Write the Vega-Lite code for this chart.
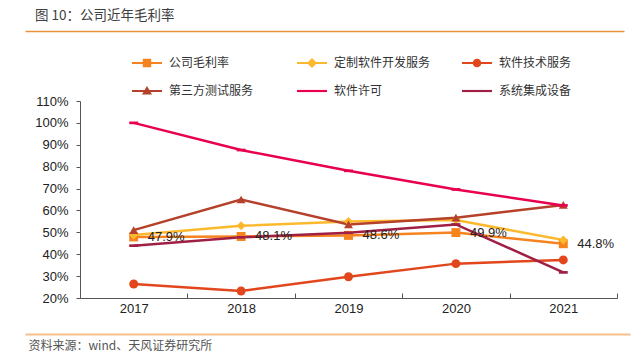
{
  "$schema": "https://vega.github.io/schema/vega-lite/v6.json",
  "width": 537,
  "height": 197,
  "autosize": {"type": "none"},
  "padding": {"left": 80, "top": 101, "right": 18, "bottom": 60},
  "background": "white",
  "config": {
    "view": {"stroke": null},
    "font": "Liberation Sans, Noto Sans CJK SC",
    "axis": {"labelFont": "Liberation Sans, Noto Sans CJK SC", "titleFont": "Noto Sans CJK SC"},
    "legend": {"labelFont": "Noto Sans CJK SC"}
  },
  "title": {
    "text": "图 10：公司近年毛利率",
    "anchor": "start",
    "frame": "group",
    "dx": -45,
    "dy": -9,
    "fontSize": 13.5,
    "fontWeight": "normal",
    "color": "#404040",
    "font": "Noto Sans CJK SC",
    "orient": "top",
    "offset": 0
  },
  "datasets": {
    "rows": [
      {"year": "2017", "series": "公司毛利率", "value": 0.479},
      {"year": "2018", "series": "公司毛利率", "value": 0.481},
      {"year": "2019", "series": "公司毛利率", "value": 0.486},
      {"year": "2020", "series": "公司毛利率", "value": 0.499},
      {"year": "2021", "series": "公司毛利率", "value": 0.448},
      {"year": "2017", "series": "定制软件开发服务", "value": 0.488},
      {"year": "2018", "series": "定制软件开发服务", "value": 0.530},
      {"year": "2019", "series": "定制软件开发服务", "value": 0.550},
      {"year": "2020", "series": "定制软件开发服务", "value": 0.556},
      {"year": "2021", "series": "定制软件开发服务", "value": 0.465},
      {"year": "2017", "series": "软件技术服务", "value": 0.264},
      {"year": "2018", "series": "软件技术服务", "value": 0.232},
      {"year": "2019", "series": "软件技术服务", "value": 0.297},
      {"year": "2020", "series": "软件技术服务", "value": 0.357},
      {"year": "2021", "series": "软件技术服务", "value": 0.374},
      {"year": "2017", "series": "第三方测试服务", "value": 0.510},
      {"year": "2018", "series": "第三方测试服务", "value": 0.650},
      {"year": "2019", "series": "第三方测试服务", "value": 0.536},
      {"year": "2020", "series": "第三方测试服务", "value": 0.567},
      {"year": "2021", "series": "第三方测试服务", "value": 0.625},
      {"year": "2017", "series": "软件许可", "value": 1.000},
      {"year": "2018", "series": "软件许可", "value": 0.876},
      {"year": "2019", "series": "软件许可", "value": 0.781},
      {"year": "2020", "series": "软件许可", "value": 0.696},
      {"year": "2021", "series": "软件许可", "value": 0.623},
      {"year": "2017", "series": "系统集成设备", "value": 0.439},
      {"year": "2018", "series": "系统集成设备", "value": 0.477},
      {"year": "2019", "series": "系统集成设备", "value": 0.498},
      {"year": "2020", "series": "系统集成设备", "value": 0.536},
      {"year": "2021", "series": "系统集成设备", "value": 0.317}
    ]
  },
  "data": {"name": "rows"},
  "encoding": {
    "y": {
      "field": "value",
      "type": "quantitative",
      "scale": {"domain": [0.2, 1.1], "nice": false, "zero": false},
      "axis": {
        "title": null,
        "format": ".0%",
        "values": [0.2, 0.3, 0.4, 0.5, 0.6, 0.7, 0.8, 0.9, 1.0, 1.1],
        "grid": false,
        "labelFontSize": 13,
        "labelColor": "#222222",
        "labelPadding": 8,
        "tickSize": 4,
        "tickColor": "#555555",
        "domainColor": "#555555"
      }
    }
  },
  "layer": [
    {
      "mark": {"type": "line", "strokeWidth": 2.5},
      "encoding": {
        "x": {
          "field": "year",
          "type": "ordinal",
          "scale": {"paddingInner": 0, "paddingOuter": 0},
          "axis": {
            "orient": "bottom",
            "title": "资料来源：wind、天风证券研究所",
            "titleX": -52,
            "titleY": 47,
            "titleAlign": "left",
            "titleBaseline": "middle",
            "titleFontSize": 12,
            "titleFontWeight": "normal",
            "titleColor": "#555555",
            "labelAngle": 0,
            "labelFontSize": 13,
            "labelColor": "#222222",
            "labelPadding": 9,
            "bandPosition": 0,
            "tickBand": "extent",
            "ticks": true,
            "tickSize": -5,
            "tickColor": "#555555",
            "domainColor": "#555555",
            "labelBound": false
          }
        },
        "color": {
          "field": "series",
          "type": "nominal",
          "scale": {
            "domain": ["公司毛利率", "定制软件开发服务", "软件技术服务", "第三方测试服务", "软件许可", "系统集成设备"],
            "range": ["#F5841F", "#FDB92E", "#E2461C", "#B5412A", "#E8004E", "#A01F45"]
          },
          "legend": null
        },
        "order": {"field": "year"}
      }
    },
    {
      "mark": {"type": "point", "filled": true, "opacity": 1, "size": 80},
      "encoding": {
        "x": {"field": "year", "type": "ordinal", "scale": {"paddingInner": 0, "paddingOuter": 0}, "axis": null},
        "color": {
          "field": "series",
          "type": "nominal",
          "scale": {
            "domain": ["公司毛利率", "定制软件开发服务", "软件技术服务", "第三方测试服务", "软件许可", "系统集成设备"],
            "range": ["#F5841F", "#FDB92E", "#E2461C", "#B5412A", "#E8004E", "#A01F45"]
          },
          "legend": null
        },
        "shape": {
          "field": "series",
          "type": "nominal",
          "scale": {
            "domain": ["公司毛利率", "定制软件开发服务", "软件技术服务", "第三方测试服务", "软件许可", "系统集成设备"],
            "range": ["square", "diamond", "circle", "triangle-up", "M-1,-0.3H1V0.3H-1Z", "M-1,-0.3H1V0.3H-1Z"]
          },
          "legend": null
        }
      }
    },
    {
      "mark": {"type": "point", "filled": true, "opacity": 1, "size": 0},
      "encoding": {
        "x": {
          "field": "year",
          "type": "ordinal",
          "scale": {"paddingInner": 0, "paddingOuter": 0, "range": [-55, 544]},
          "axis": {
            "orient": "top",
            "offset": 70,
            "title": null,
            "labels": false,
            "ticks": false,
            "domainColor": "#E8923A",
            "domainWidth": 1.5
          }
        },
        "color": {
          "field": "series",
          "type": "nominal",
          "scale": {
            "domain": ["公司毛利率", "定制软件开发服务", "软件技术服务", "第三方测试服务", "软件许可", "系统集成设备"],
            "range": ["#F5841F", "#FDB92E", "#E2461C", "#B5412A", "#E8004E", "#A01F45"]
          },
          "legend": {
            "title": null,
            "orient": "none",
            "direction": "horizontal",
            "legendX": 55,
            "legendY": -50,
            "columns": 3,
            "gridAlign": "all",
            "columnPadding": 31,
            "rowPadding": 10,
            "padding": 0,
            "symbolSize": 576,
            "symbolStrokeWidth": 0,
            "symbolOpacity": 1,
            "labelOffset": 10,
            "labelFontSize": 12,
            "labelColor": "#333333",
            "labelLimit": 200
          }
        },
        "shape": {
          "field": "series",
          "type": "nominal",
          "scale": {
            "domain": ["公司毛利率", "定制软件开发服务", "软件技术服务", "第三方测试服务", "软件许可", "系统集成设备"],
            "range": [
              "M-1.25,-0.09H1.25V0.09H-1.25Z M-0.35,-0.35H0.35V0.35H-0.35Z",
              "M-1.25,-0.09H1.25V0.09H-1.25Z M0,-0.42L0.42,0L0,0.42L-0.42,0Z",
              "M-1.25,-0.09H1.25V0.09H-1.25Z M-0.36,0A0.36,0.36 0 1,1 0.36,0A0.36,0.36 0 1,1 -0.36,0Z",
              "M-1.25,-0.09H1.25V0.09H-1.25Z M0,-0.42L0.42,0.3L-0.42,0.3Z",
              "M-1.25,-0.09H1.25V0.09H-1.25Z",
              "M-1.25,-0.09H1.25V0.09H-1.25Z"
            ]
          },
          "legend": {
            "title": null,
            "orient": "none",
            "direction": "horizontal",
            "legendX": 55,
            "legendY": -50,
            "columns": 3,
            "gridAlign": "all",
            "columnPadding": 31,
            "rowPadding": 10,
            "padding": 0,
            "symbolSize": 576,
            "symbolStrokeWidth": 0,
            "symbolOpacity": 1,
            "labelOffset": 10,
            "labelFontSize": 12,
            "labelColor": "#333333",
            "labelLimit": 200
          }
        }
      }
    },
    {
      "mark": {"type": "point", "filled": true, "opacity": 1, "size": 0},
      "encoding": {
        "x": {
          "field": "year",
          "type": "ordinal",
          "scale": {"paddingInner": 0, "paddingOuter": 0, "range": [-55, 550]},
          "axis": {
            "orient": "bottom",
            "offset": 36,
            "title": null,
            "labels": false,
            "ticks": false,
            "domainColor": "#F5BE8C",
            "domainWidth": 2
          }
        }
      }
    },
    {
      "transform": [{"filter": "datum.series === '公司毛利率'"}],
      "mark": {"type": "text", "align": "left", "baseline": "middle", "dx": 14, "fontSize": 13, "color": "#222222", "font": "Liberation Sans"},
      "encoding": {
        "x": {"field": "year", "type": "ordinal", "scale": {"paddingInner": 0, "paddingOuter": 0}, "axis": null},
        "text": {"field": "value", "type": "quantitative", "format": ".1%"}
      }
    }
  ],
  "resolve": {"scale": {"x": "independent", "shape": "independent", "color": "independent"}}
}
